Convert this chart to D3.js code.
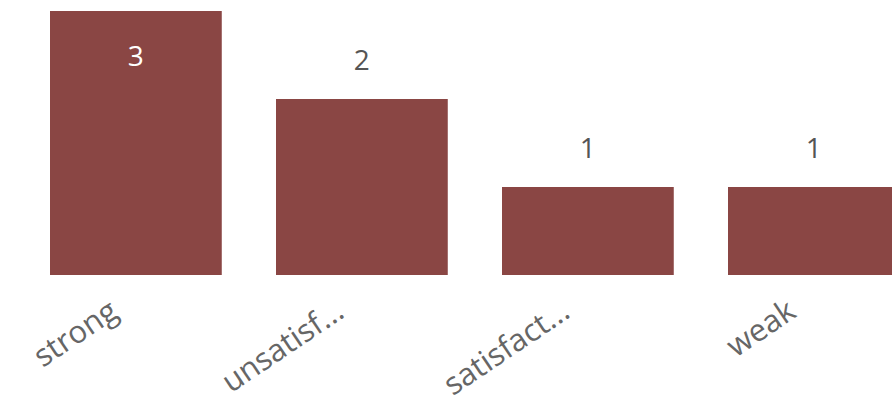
<!DOCTYPE html>
<html>
<head>
<meta charset="utf-8">
<script src="https://cdn.jsdelivr.net/npm/d3@7"></script>
<style>
  html, body { margin: 0; padding: 0; background: #ffffff; }
  svg { display: block; }
</style>
</head>
<body>
<svg id="chart" width="892" height="408"></svg>
<script>
const categories = ["strong", "unsatisf...", "satisfact...", "weak"];
const values = [3, 2, 1, 1];

const W = 892, H = 408;
const svg = d3.select("#chart");
const font = "'Open Sans', 'Noto Sans', sans-serif";

const padInner = 0.24;
const step = 226;
const x = d3.scaleBand()
  .domain(categories)
  .range([50, 50 + step * (categories.length - padInner)])
  .paddingInner(padInner)
  .paddingOuter(0);

const y = d3.scaleLinear()
  .domain([0, 3])
  .range([275, 11]);

const data = categories.map((c, i) => ({ c, v: values[i] }));

svg.append("g").selectAll("rect")
  .data(data)
  .enter().append("rect")
  .attr("x", d => x(d.c))
  .attr("y", d => y(d.v))
  .attr("width", x.bandwidth())
  .attr("height", d => y(0) - y(d.v))
  .attr("fill", "#8a4644");

const maxV = d3.max(values);
svg.append("g").selectAll("text")
  .data(data)
  .enter().append("text")
  .attr("x", d => x(d.c) + x.bandwidth() / 2)
  .attr("y", d => d.v === maxV ? y(d.v) + 55 : y(d.v) - 29)
  .attr("text-anchor", "middle")
  .attr("font-family", font)
  .attr("font-size", 28)
  .attr("fill", d => d.v === maxV ? "#ffffff" : "#555555")
  .text(d => d.v);

const xAxis = d3.axisBottom(x).tickSize(0).tickPadding(0);
const gx = svg.append("g")
  .attr("transform", `translate(0, ${y(0)})`)
  .call(xAxis);
gx.select(".domain").remove();
gx.selectAll("text")
  .attr("font-family", font)
  .attr("font-size", 31)
  .attr("fill", "#666666")
  .attr("text-anchor", "end")
  .attr("dy", null)
  .attr("y", 0)
  .attr("transform", "translate(-16, 41) rotate(-34)");
</script>
</body>
</html>
